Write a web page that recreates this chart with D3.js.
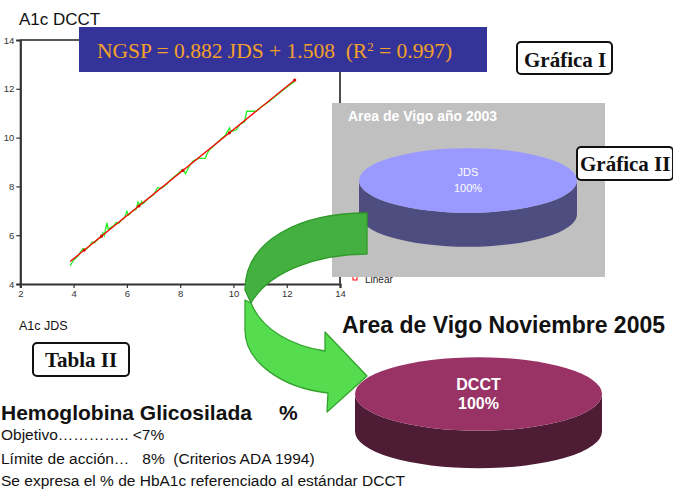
<!DOCTYPE html>
<html><head><meta charset="utf-8">
<script src="https://cdn.jsdelivr.net/npm/d3@7"></script>
<style>
html,body{margin:0;padding:0;background:#fff;}
svg{display:block;}
text{white-space:pre;}
</style></head>
<body>
<svg id="c" width="673" height="490"></svg>
<script>
// ---- data ----
const jds  = [3.87,4.0,4.15,4.25,4.35,4.45,4.6,4.7,4.8,4.95,5.05,5.1,5.15,5.25,5.3,5.4,5.5,5.6,5.7,5.8,5.9,6.0,6.05,6.2,6.35,6.42,6.5,6.55,6.6,6.8,7.0,7.15,7.3,7.5,7.6,7.8,8.0,8.1,8.2,8.35,8.5,8.7,8.95,9.0,9.1,9.3,9.5,9.7,9.85,9.9,10.1,10.25,10.42,10.5,10.85,11.0,11.3,11.6,11.9,12.1,12.3];
const dcct = [4.75,4.98,5.12,5.30,5.45,5.40,5.55,5.72,5.70,5.88,5.92,6.10,5.98,6.50,6.25,6.32,6.38,6.52,6.50,6.62,6.70,6.98,6.82,6.98,7.06,7.36,7.22,7.38,7.28,7.50,7.66,7.95,7.92,8.10,8.22,8.42,8.60,8.70,8.52,8.85,9.05,9.15,9.15,9.32,9.50,9.70,9.90,10.10,10.40,10.25,10.30,10.55,10.65,11.08,11.08,11.22,11.45,11.72,11.98,12.15,12.30];
const fitSlope = 0.882, fitIntercept = 1.508, fitR2 = 0.997;
const fitRange = [3.87, 12.3];
const fitMarkers = [4.4, 5.05, 6.45, 8.1, 9.85, 12.3];
const xTicks = [2,4,6,8,10,12,14];
const yTicks = [4,6,8,10,12,14];
const pie2003Labels = ["JDS"], pie2003Values = [100];
const pie2005Labels = ["DCCT"], pie2005Values = [100];

const svg = d3.select("#c");
svg.append("rect").attr("width",673).attr("height",490).attr("fill","#fff");

// ---- scatter / fit chart ----
const x = d3.scaleLinear().domain([2,14]).range([20.3,340]);
const y = d3.scaleLinear().domain([4,14]).range([284,40]);

svg.append("text").attr("x",19).attr("y",25).attr("font-family","Liberation Sans, Arial").attr("font-size",17).attr("fill","#111").text("A1c DCCT");
svg.append("text").attr("x",19).attr("y",330).attr("font-family","Liberation Sans, Arial").attr("font-size",12.5).attr("fill","#111").text("A1c JDS");

// frame
svg.append("path").attr("d",`M${x(2)},${y(14)}H${x(14)}V${y(4)}`).attr("fill","none").attr("stroke","#222").attr("stroke-width",1.6);

const gx = svg.append("g").attr("transform",`translate(0,${y(4)})`).call(d3.axisBottom(x).tickValues(xTicks).tickSize(4).tickPadding(2).tickFormat(d3.format("d")));
const gy = svg.append("g").attr("transform",`translate(${x(2)},0)`).call(d3.axisLeft(y).tickValues(yTicks).tickSize(4).tickPadding(2).tickFormat(d3.format("d")));
[gx,gy].forEach(g=>{
  g.select(".domain").attr("stroke","#333").attr("stroke-width",2.2);
  g.selectAll(".tick line").attr("stroke","#333").attr("stroke-width",1.2);
  g.selectAll(".tick text").attr("font-family","Liberation Sans, Arial").attr("font-size",9.5).attr("fill","#333");
});

const pts = jds.map((v,i)=>[v,dcct[i]]);
svg.append("path").datum(pts).attr("fill","none").attr("stroke","#22ee22").attr("stroke-width",1.3)
  .attr("d", d3.line().x(d=>x(d[0])).y(d=>y(d[1])));
const fitLine = fitRange.map(v=>[v, fitSlope*v+fitIntercept]);
svg.append("path").datum(fitLine).attr("fill","none").attr("stroke","#ff0000").attr("stroke-width",1.3)
  .attr("d", d3.line().x(d=>x(d[0])).y(d=>y(d[1])));
svg.selectAll("circle.fm").data(fitMarkers).join("circle").attr("class","fm")
  .attr("cx",d=>x(d)).attr("cy",d=>y(fitSlope*d+fitIntercept)).attr("r",1.6).attr("fill","#e00000");

// legend (partly hidden under grey panel)
svg.append("rect").attr("x",353).attr("y",275).attr("width",4).attr("height",5).attr("fill","none").attr("stroke","#ff0000").attr("stroke-width",1);
svg.append("text").attr("x",365).attr("y",283).attr("font-family","Liberation Sans, Arial").attr("font-size",10).attr("fill","#222").text("Linear");

// ---- equation banner ----
svg.append("rect").attr("x",79).attr("y",27).attr("width",408).attr("height",45).attr("fill","#333399");
const eq = svg.append("text").attr("x",97).attr("y",58).attr("font-family","Liberation Serif, Times New Roman").attr("font-size",21.5).attr("fill","#f5a02a");
eq.append("tspan").text(`NGSP = ${fitSlope} JDS + ${fitIntercept}  (R`);
eq.append("tspan").attr("font-size",13).attr("dy",-7).text("2");
eq.append("tspan").attr("dy",7).text(` = ${fitR2})`);

function labelBox(x0,y0,w,h,txt,tx,ty,fs){
  svg.append("rect").attr("x",x0).attr("y",y0).attr("width",w).attr("height",h).attr("rx",4)
    .attr("fill","#fff").attr("stroke","#111").attr("stroke-width",2);
  svg.append("text").attr("x",tx).attr("y",ty).attr("font-family","Liberation Serif, Times New Roman")
    .attr("font-weight","bold").attr("font-size",fs).attr("fill","#111").text(txt);
}
labelBox(517,42,95,32,"Gráfica I",524,67,21);

// ---- 3D pie helper ----
function pie3d(cx,cy,rx,ry,depth,values,labels,topCol,sideCol,fs,lineGap,bold){
  const arcs = d3.pie().sort(null)(values);
  const g = svg.append("g");
  g.append("path").attr("d",`M${cx-rx},${cy}A${rx},${ry} 0 0 0 ${cx+rx},${cy}V${cy+depth}A${rx},${ry} 0 0 1 ${cx-rx},${cy+depth}Z`).attr("fill",sideCol);
  const arc = d3.arc().innerRadius(0).outerRadius(1);
  g.selectAll("path.top").data(arcs).join("path").attr("class","top")
    .attr("transform",`translate(${cx},${cy}) scale(${rx},${ry})`).attr("d",arc).attr("fill",topCol);
  arcs.forEach((a,i)=>{
    const t = g.append("text").attr("text-anchor","middle").attr("font-family","Liberation Sans, Arial")
      .attr("font-size",fs).attr("font-weight",bold?"bold":"normal").attr("fill","#fff");
    t.append("tspan").attr("x",cx).attr("y",cy+fs*0.35-lineGap/2).text(labels[i]);
    t.append("tspan").attr("x",cx).attr("y",cy+fs*0.35+lineGap/2).text(d3.format(".0f")(a.value/d3.sum(values)*100)+"%");
  });
}

// ---- grey panel, pie 2003 ----
svg.append("rect").attr("x",332).attr("y",103).attr("width",273).attr("height",174).attr("fill","#c0c0c0");
svg.append("text").attr("x",348).attr("y",121).attr("font-family","Liberation Sans, Arial").attr("font-weight","bold").attr("font-size",14).attr("fill","#fff").text("Area de Vigo año 2003");
pie3d(468,180.5,109,32.3,34,pie2003Values,pie2003Labels,"#9999ff","#4d4d80",11,16,false);
labelBox(577,147,96,33,"Gráfica II",580,171,21);

// ---- curved arrow ----
svg.append("path")
  .attr("d","M245,300 L245,330 C245,362 282,388 328,393 L327,412 L367,376 L325,332 L325,351 C292,346 262,330 251,303 Z")
  .attr("fill","#55dd4f").attr("stroke","#34a32e").attr("stroke-width",1.3).attr("stroke-linejoin","round");
svg.append("path")
  .attr("d","M367,213 C300,213 245,240 245,290 L251,303 C270,270 320,254 367,254 Z")
  .attr("fill","#44b040").attr("stroke","#2f9a2a").attr("stroke-width",1.3).attr("stroke-linejoin","round");

// ---- 2005 ----
svg.append("text").attr("x",342).attr("y",333).attr("font-family","Liberation Sans, Arial").attr("font-weight","bold").attr("font-size",23).attr("fill","#111").text("Area de Vigo Noviembre 2005");
pie3d(478.5,394,123.5,36.7,37.5,pie2005Values,pie2005Labels,"#993366","#4f1c36",16,19,true);

// ---- Tabla II ----
labelBox(33,343,96,33,"Tabla II",45,367,21);
const tf = "Liberation Sans, Arial";
svg.append("text").attr("x",1).attr("y",420).attr("font-family",tf).attr("font-weight","bold").attr("font-size",21).attr("fill","#111").text("Hemoglobina Glicosilada");
svg.append("text").attr("x",279).attr("y",420).attr("font-family",tf).attr("font-weight","bold").attr("font-size",21).attr("fill","#111").text("%");
svg.append("text").attr("x",1).attr("y",440).attr("font-family",tf).attr("font-size",15.5).attr("fill","#111").text("Objetivo………….. <7%");
svg.append("text").attr("x",1).attr("y",464).attr("font-family",tf).attr("font-size",15.5).attr("fill","#111").text("Límite de acción…   8%  (Criterios ADA 1994)");
svg.append("text").attr("x",1).attr("y",486).attr("font-family",tf).attr("font-size",15.5).attr("fill","#111").text("Se expresa el % de HbA1c referenciado al estándar DCCT");
</script>
</body></html>
